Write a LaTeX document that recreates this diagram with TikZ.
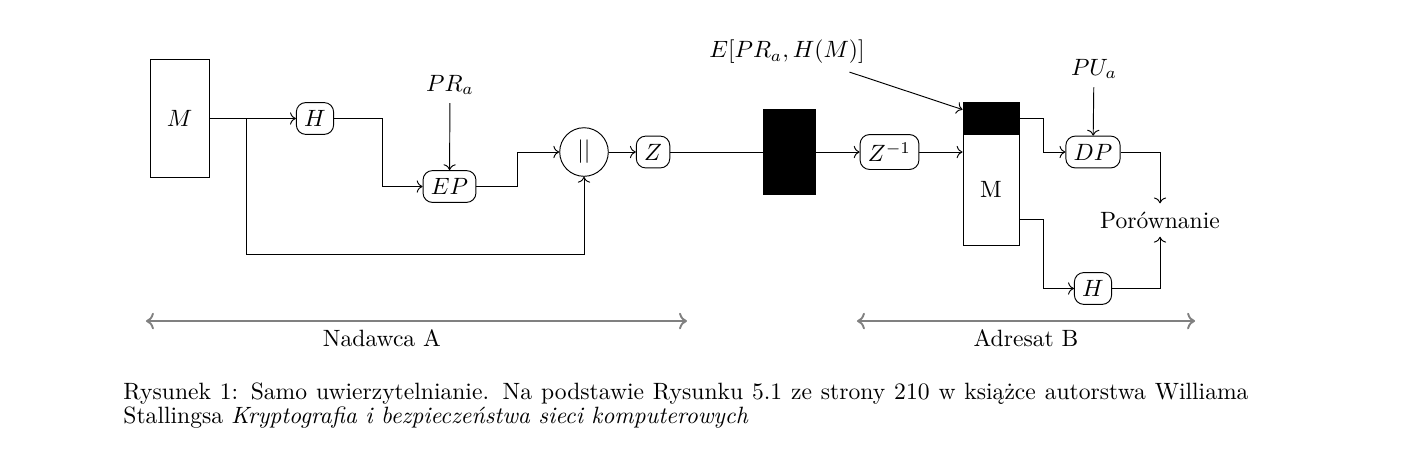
\documentclass[tikz,border=0pt]{standalone}
\usepackage{fontspec}
\usepackage{tikz}
\usetikzlibrary{arrows.meta,positioning,calc}
\tikzset{
  msgbox/.style={draw, minimum width=8.8mm, minimum height=17.45mm, inner sep=0pt},
  funcbox/.style={draw, rounded corners=4pt, align=center},
  joinnode/.style={draw, circle},
  chanbox/.style={draw, fill=black, minimum width=7.75mm, minimum height=12.67mm, inner sep=0pt},
  headbox/.style={draw, fill=black, minimum width=8.35mm, minimum height=4.77mm, inner sep=0pt},
  bodybox/.style={draw, minimum width=8.35mm, minimum height=16.55mm, inner sep=0pt},
  flow/.style={->},
  sidearrow/.style={<->, gray, thick},
  captext/.style={text width=16.77cm, align=justify, inner sep=0pt, font=\fontsize{10pt}{8.7pt}\selectfont}
}
\begin{document}
\begin{tikzpicture}
\useasboundingbox (0,0) rectangle (20.913,-7.021);
% nadawca
\node[msgbox] (msg) at (2.676,-1.766) {$M$};
\node[funcbox] (hash) at (4.695,-1.766) {$H$};
\node[funcbox] (enc) at (6.700,-2.780) {$EP$};
\node (prkey) at (6.708,-1.267) {$PR_a$};
\node[joinnode] (concat) at (8.705,-2.266) {$||$};
\node[funcbox] (zip) at (9.734,-2.266) {$Z$};
\node[chanbox] (chan) at (11.761,-2.266) {};
% adresat
\node[funcbox] (unzip) at (13.259,-2.266) {$Z^{-1}$};
\node[headbox] (rcvhead) at (14.772,-1.759) {};
\node[bodybox] (rcvbody) at (14.772,-2.825) {M};
\node (esig) at (11.731,-0.775) {$E[PR_a,H(M)]$};
\node[funcbox] (dec) at (16.292,-2.266) {$DP$};
\node (pukey) at (16.307,-1.030) {$PU_a$};
\node (cmp) at (17.291,-3.280) {Porównanie};
\node[funcbox] (hash2) at (16.292,-4.300) {$H$};
\coordinate (split) at (3.667,-1.766);
\draw[flow] (msg) -- (hash);
\draw[flow] (split) -- ++(0,-2.02) -| (concat.south);
\draw[flow] (hash.east) -- ++(0.72,0) |- (enc.west);
\draw[flow] (prkey) -- (enc);
\draw[flow] (enc.east) -- ++(0.61,0) |- (concat.west);
\draw[flow] (concat) -- (zip);
\draw (zip) -- (chan);
\draw[flow] (chan) -- (unzip);
\draw[flow] (unzip) -- (unzip -| rcvbody.west);
\draw[flow] ([xshift=-0.35cm]esig.south east) -- ([yshift=-0.12cm]rcvhead.north west);
\draw[flow] (rcvhead.east) -- ++(0.36,0) |- (dec.west);
\draw[flow] (pukey) -- (dec);
\draw[flow] (dec.east) -| (cmp.north);
\draw[flow] ([yshift=-0.44cm]rcvbody.east) -- ++(0.36,0) |- (hash2.west);
\draw[flow] (hash2.east) -| (cmp.south);
% zakresy
\coordinate (sndL) at (2.176,-4.785);
\coordinate (sndR) at (10.240,-4.785);
\coordinate (rcvL) at (12.774,-4.785);
\coordinate (rcvR) at (17.813,-4.785);
\draw[sidearrow] (sndL) -- node[below, pos=0.436, text=black] {Nadawca A} (sndR);
\draw[sidearrow] (rcvL) -- node[below, text=black] {Adresat B} (rcvR);
\node[captext, anchor=north west] (caption) at (1.833,-5.703) {Rysunek 1: Samo uwierzytelnianie. Na podstawie Rysunku 5.1 ze strony 210 w książce autorstwa Williama Stallingsa \textit{Kryptografia i bezpieczeństwa sieci komputerowych}};
\end{tikzpicture}
\end{document}
